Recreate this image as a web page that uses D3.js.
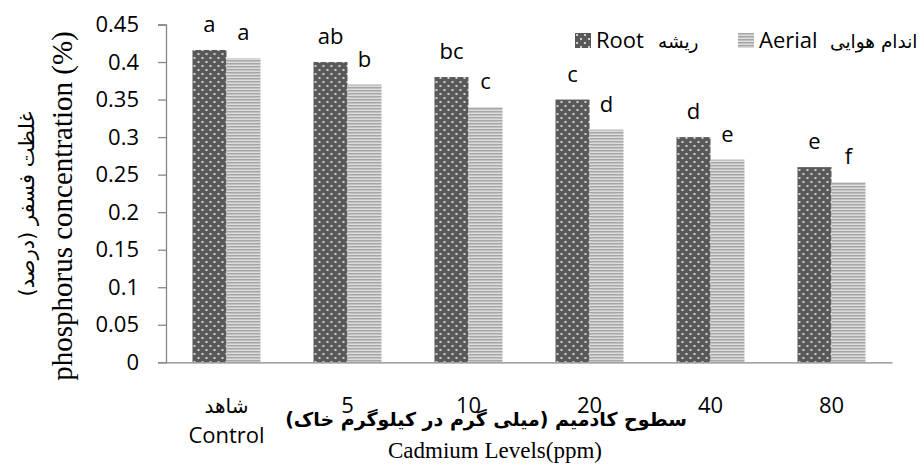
<!DOCTYPE html>
<html>
<head>
<meta charset="utf-8">
<script src="https://cdn.jsdelivr.net/npm/d3@7"></script>
<style>
body { margin: 0; background: #fff; }
svg { display: block; }
.lat { font-family: "Open Sans", "DejaVu Sans", sans-serif; }
.ser { font-family: "Liberation Serif", "DejaVu Serif", serif; }
</style>
</head>
<body>
<script>
var w = 919;
var h = 473;

// data
var levels = ["Control", "5", "10", "20", "40", "80"];
var levelsFa = ["شاهد", "", "", "", "", ""];
var rootValues = [0.416, 0.40, 0.38, 0.35, 0.30, 0.26];
var aerialValues = [0.405, 0.37, 0.34, 0.31, 0.27, 0.24];
var rootLetters = ["a", "ab", "bc", "c", "d", "e"];
var aerialLetters = ["a", "b", "c", "d", "e", "f"];
var yTicks = [0, 0.05, 0.1, 0.15, 0.2, 0.25, 0.3, 0.35, 0.4, 0.45];
var yTickLabels = ["0", "0.05", "0.1", "0.15", "0.2", "0.25", "0.3", "0.35", "0.4", "0.45"];
var seriesNames = ["Root", "Aerial"];
var seriesNamesFa = ["ریشه", "اندام هوایی"];

var plotLeft = 166, plotRight = 892, plotTop = 24.5, plotBottom = 362.3;

var svg = d3.select("body").append("svg")
    .attr("width", w)
    .attr("height", h);

var defs = svg.append("defs");

// dotted dark fill for root
var dots = defs.append("pattern")
    .attr("id", "dots")
    .attr("patternUnits", "userSpaceOnUse")
    .attr("width", 8)
    .attr("height", 8);
dots.append("rect").attr("width", 8).attr("height", 8).attr("fill", "#595959");
dots.append("rect").attr("x", 1).attr("y", 1).attr("width", 2).attr("height", 2).attr("fill", "#d0d0d0");
dots.append("rect").attr("x", 5).attr("y", 5).attr("width", 2).attr("height", 2).attr("fill", "#d0d0d0");

// horizontal stripes for aerial
var stripes = defs.append("pattern")
    .attr("id", "stripes")
    .attr("patternUnits", "userSpaceOnUse")
    .attr("width", 4)
    .attr("height", 3);
stripes.append("rect").attr("width", 4).attr("height", 3).attr("fill", "#dcdcdc");
stripes.append("rect").attr("width", 4).attr("height", 1.5).attr("fill", "#a6a6a6");

var fills = ["url(#dots)", "url(#stripes)"];

var x0 = d3.scaleBand()
    .domain(levels)
    .range([plotLeft, plotRight])
    .paddingInner(0.438)
    .paddingOuter(0.219);

var x1 = d3.scaleBand()
    .domain(seriesNames)
    .range([0, x0.bandwidth()]);

var y = d3.scaleLinear()
    .domain([0, 0.45])
    .range([plotBottom, plotTop]);

// bars
var groups = svg.selectAll("g.level")
    .data(levels).enter()
    .append("g")
    .attr("class", "level")
    .attr("transform", function(d) { return "translate(" + x0(d) + ",0)"; });

groups.each(function(d, i) {
    var vals = [rootValues[i], aerialValues[i]];
    var letters = [rootLetters[i], aerialLetters[i]];
    var g = d3.select(this);
    g.selectAll("rect")
        .data(seriesNames).enter()
        .append("rect")
        .attr("x", function(s) { return x1(s); })
        .attr("y", function(s, j) { return y(vals[j]); })
        .attr("width", x1.bandwidth())
        .attr("height", function(s, j) { return plotBottom - y(vals[j]); })
        .attr("fill", function(s, j) { return fills[j]; });
    g.selectAll("text")
        .data(seriesNames).enter()
        .append("text")
        .attr("class", "lat")
        .attr("x", function(s) { return x1(s) + x1.bandwidth() / 2; })
        .attr("y", function(s, j) { return y(vals[j]) - 18; })
        .attr("text-anchor", "middle")
        .attr("font-size", 22)
        .attr("fill", "#000")
        .text(function(s, j) { return letters[j]; });
});

// y axis
var yAxis = d3.axisLeft(y)
    .tickValues(yTicks)
    .tickFormat(function(d, i) { return yTickLabels[i]; })
    .tickSizeInner(8)
    .tickSizeOuter(8)
    .tickPadding(19);

var yg = svg.append("g")
    .attr("transform", "translate(" + plotLeft + ",0)")
    .call(yAxis);
yg.select(".domain").attr("stroke", "#868686").attr("stroke-width", 1.3);
yg.selectAll(".tick line").attr("stroke", "#868686").attr("stroke-width", 1.3);
yg.selectAll(".tick text")
    .attr("class", "lat")
    .attr("font-size", 22)
    .attr("fill", "#000");

// x axis
var xAxis = d3.axisBottom(x0)
    .tickSize(0)
    .tickPadding(0)
    .tickFormat("");

var xg = svg.append("g")
    .attr("transform", "translate(0," + plotBottom + ")")
    .call(xAxis);
xg.select(".domain").attr("stroke", "#868686").attr("stroke-width", 1.3);
xg.selectAll(".tick").each(function(d, i) {
    var t = d3.select(this);
    if (levelsFa[i] != "") {
        t.append("text")
            .attr("class", "lat")
            .attr("y", 51)
            .attr("text-anchor", "middle")
            .attr("direction", "rtl")
            .attr("font-size", 20)
            .attr("fill", "#000")
            .text(levelsFa[i]);
        t.append("text")
            .attr("class", "lat")
            .attr("y", 81)
            .attr("text-anchor", "middle")
            .attr("font-size", 22)
            .attr("fill", "#000")
            .text(d);
    } else {
        t.append("text")
            .attr("class", "lat")
            .attr("y", 51)
            .attr("text-anchor", "middle")
            .attr("font-size", 22)
            .attr("fill", "#000")
            .text(d);
    }
});

// axis titles
svg.append("text")
    .attr("direction", "rtl")
    .attr("text-anchor", "middle")
    .attr("x", 486)
    .attr("y", 426)
    .attr("font-family", "DejaVu Sans, sans-serif")
    .attr("font-weight", "bold")
    .attr("font-size", 19)
    .attr("fill", "#000")
    .text("سطوح کادمیم (میلی گرم در کیلوگرم خاک)");

svg.append("text")
    .attr("class", "ser")
    .attr("text-anchor", "middle")
    .attr("x", 495)
    .attr("y", 458)
    .attr("font-size", 23)
    .attr("fill", "#000")
    .text("Cadmium Levels(ppm)");

svg.append("text")
    .attr("class", "ser")
    .attr("text-anchor", "middle")
    .attr("transform", "translate(72,206) rotate(-90)")
    .attr("font-size", 29)
    .attr("fill", "#000")
    .text("phosphorus concentration (%)");

svg.append("text")
    .attr("direction", "rtl")
    .attr("text-anchor", "middle")
    .attr("transform", "translate(34,204) rotate(-90)")
    .attr("font-family", "DejaVu Sans, sans-serif")
    .attr("font-size", 21)
    .attr("fill", "#000")
    .text("غلظت فسفر (درصد)");

// legend
var legendX = [575, 738];
var legendFaX = [83, 92];
var legend = svg.selectAll("g.legend")
    .data(seriesNames).enter()
    .append("g")
    .attr("class", "legend")
    .attr("transform", function(d, i) { return "translate(" + legendX[i] + ",33)"; });

legend.append("rect")
    .attr("width", 16)
    .attr("height", 15)
    .attr("fill", function(d, i) { return fills[i]; });

legend.append("text")
    .attr("class", "lat")
    .attr("x", 21)
    .attr("y", 15)
    .attr("font-size", 22)
    .attr("fill", "#000")
    .text(function(d) { return d; });

legend.append("text")
    .attr("x", function(d, i) { return legendFaX[i]; })
    .attr("y", 15)
    .attr("direction", "rtl")
    .attr("text-anchor", "end")
    .attr("font-family", "DejaVu Sans, sans-serif")
    .attr("font-size", 18.5)
    .attr("fill", "#000")
    .text(function(d, i) { return seriesNamesFa[i]; });
</script>
</body>
</html>
